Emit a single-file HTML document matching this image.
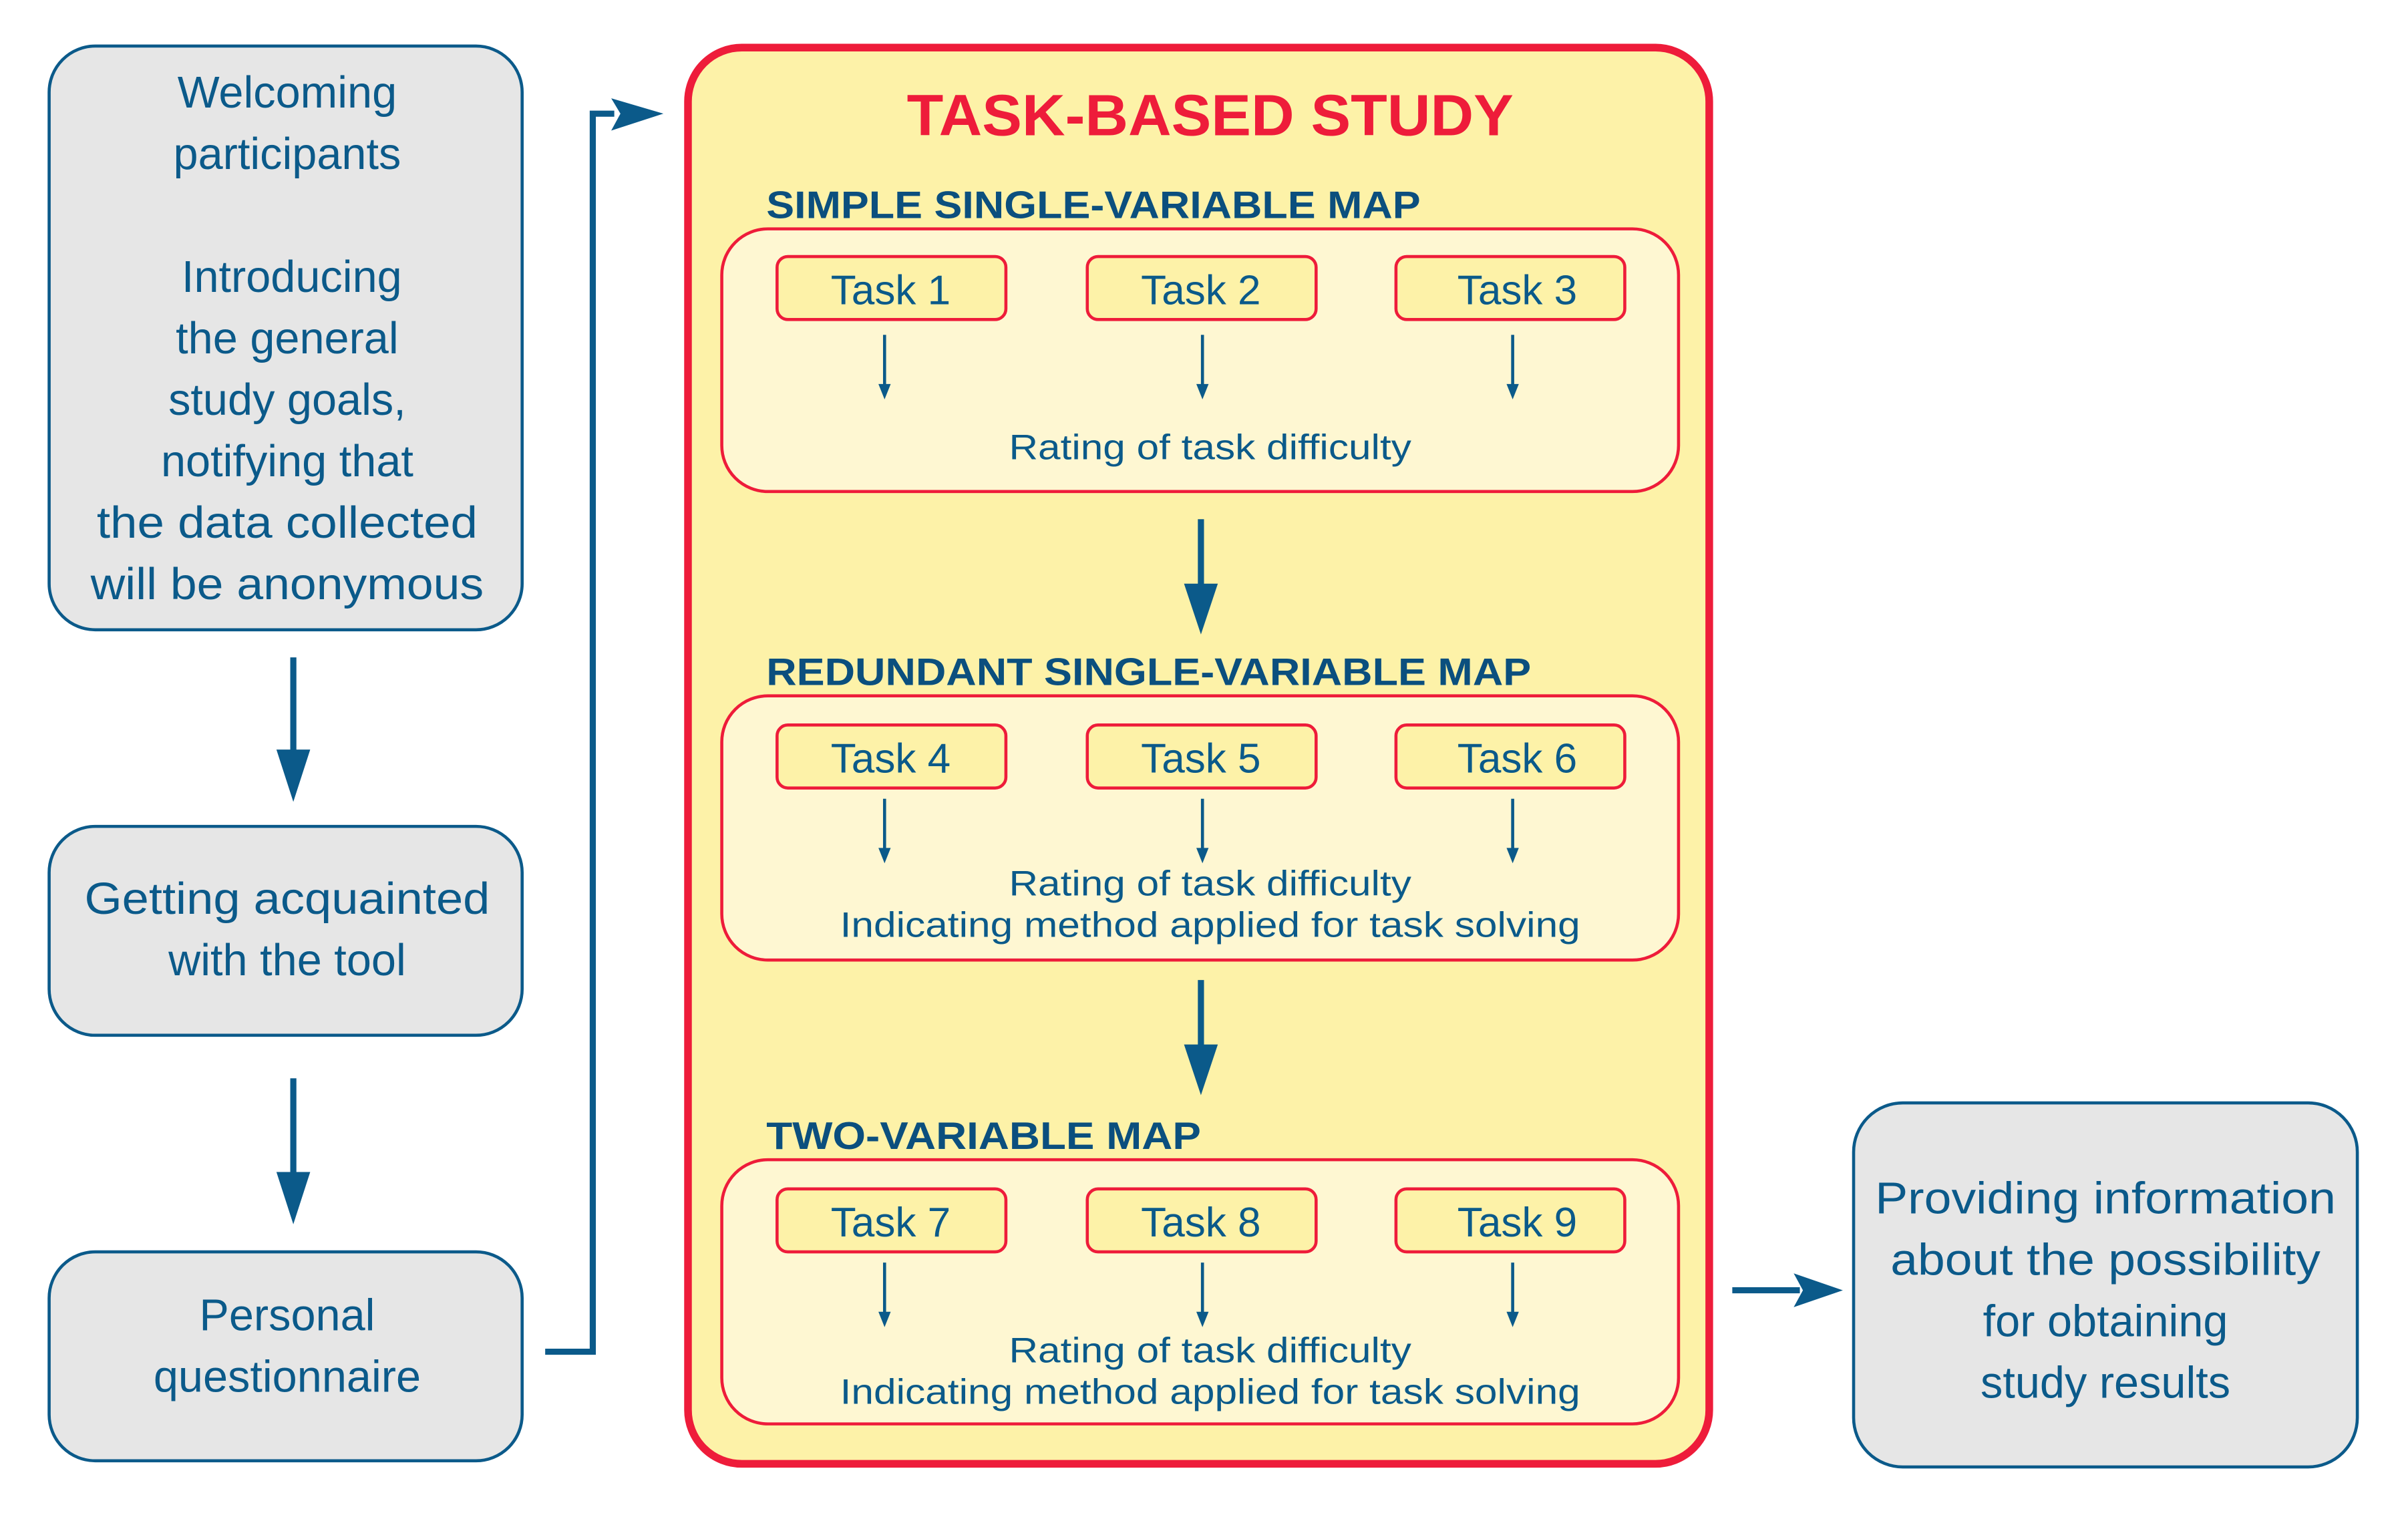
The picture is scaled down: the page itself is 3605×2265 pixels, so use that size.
<!DOCTYPE html>
<html><head><meta charset="utf-8"><style>
html,body{margin:0;padding:0;background:#fff;}
svg{display:block;}
text{font-family:"Liberation Sans",sans-serif;}
</style></head><body>
<svg width="3605" height="2265" viewBox="0 0 1568 985" preserveAspectRatio="none" xmlns="http://www.w3.org/2000/svg">
<g fill="#e6e6e6" stroke="#0b5a8a" stroke-width="2">
<rect x="32" y="30" width="308" height="380" rx="30"/>
<rect x="32" y="538" width="308" height="136" rx="30"/>
<rect x="32" y="815" width="308" height="136" rx="30"/>
<rect x="1207" y="718" width="328" height="237" rx="32"/>
</g>
<g fill="#0b5a8a" font-size="29" text-anchor="middle">
<text x="187" y="70">Welcoming</text>
<text x="187" y="110">participants</text>
<text x="190" y="190">Introducing</text>
<text x="187" y="230">the general</text>
<text x="187" y="270">study goals,</text>
<text x="187" y="310">notifying that</text>
<text x="187" y="350" textLength="248" lengthAdjust="spacingAndGlyphs">the data collected</text>
<text x="187" y="390" textLength="256" lengthAdjust="spacingAndGlyphs">will be anonymous</text>
<text x="187" y="595" textLength="264" lengthAdjust="spacingAndGlyphs">Getting acquainted</text>
<text x="187" y="635">with the tool</text>
<text x="187" y="866">Personal</text>
<text x="187" y="906">questionnaire</text>
<text x="1371" y="790" textLength="300" lengthAdjust="spacingAndGlyphs">Providing information</text>
<text x="1371" y="830" textLength="280" lengthAdjust="spacingAndGlyphs">about the possibility</text>
<text x="1371" y="870">for obtaining</text>
<text x="1371" y="910">study results</text>
</g>
<g stroke="#0b5a8a" stroke-width="4" fill="none">
<line x1="191" y1="428" x2="191" y2="492"/>
<line x1="191" y1="702" x2="191" y2="767"/>
<polyline points="355,880 386,880 386,74 400,74"/>
<line x1="1128" y1="840" x2="1172" y2="840"/>
</g>
<g fill="#0b5a8a">
<path d="M180,488 L202,488 L191,522 Z"/>
<path d="M180,763 L202,763 L191,797 Z"/>
<path d="M398,64 L432,74 L398,85 L404,74 Z"/>
<path d="M1168,829 L1200,840 L1168,851 L1174,840 Z"/>
</g>
<rect x="448" y="31" width="665" height="922" rx="35" fill="#fdf2a8" stroke="#ee1c3a" stroke-width="5"/>
<text x="788" y="88" text-anchor="middle" font-size="38" font-weight="bold" fill="#ee1c3a" textLength="395" lengthAdjust="spacingAndGlyphs">TASK-BASED STUDY</text>
<g fill="#0b4f7e" font-size="25" font-weight="bold">
<text x="499" y="142" textLength="426" lengthAdjust="spacingAndGlyphs">SIMPLE SINGLE-VARIABLE MAP</text>
<text x="499" y="446" textLength="498" lengthAdjust="spacingAndGlyphs">REDUNDANT SINGLE-VARIABLE MAP</text>
<text x="499" y="748" textLength="283" lengthAdjust="spacingAndGlyphs">TWO-VARIABLE MAP</text>
</g>
<g stroke="#0b5a8a" stroke-width="4">
<line x1="782" y1="338" x2="782" y2="385"/>
<line x1="782" y1="638" x2="782" y2="685"/>
</g>
<g fill="#0b5a8a">
<path d="M771,380 L793,380 L782,413 Z"/>
<path d="M771,680 L793,680 L782,713 Z"/>
</g>
<g fill="#fef7d2" stroke="#ee1c3a" stroke-width="2">
<rect x="470" y="149" width="623" height="171" rx="30"/>
<rect x="470" y="453" width="623" height="172" rx="30"/>
<rect x="470" y="755" width="623" height="172" rx="30"/>
</g>
<g fill="#fdf2a8" stroke="#ee1c3a" stroke-width="2">
<rect x="506" y="167" width="149" height="41" rx="7"/><rect x="708" y="167" width="149" height="41" rx="7"/><rect x="909" y="167" width="149" height="41" rx="7"/>
<rect x="506" y="472" width="149" height="41" rx="7"/><rect x="708" y="472" width="149" height="41" rx="7"/><rect x="909" y="472" width="149" height="41" rx="7"/>
<rect x="506" y="774" width="149" height="41" rx="7"/><rect x="708" y="774" width="149" height="41" rx="7"/><rect x="909" y="774" width="149" height="41" rx="7"/>
</g>
<g fill="#0b5a8a" font-size="27" text-anchor="middle">
<text x="580" y="198">Task 1</text><text x="782" y="198">Task 2</text><text x="988" y="198">Task 3</text>
<text x="580" y="503">Task 4</text><text x="782" y="503">Task 5</text><text x="988" y="503">Task 6</text>
<text x="580" y="805">Task 7</text><text x="782" y="805">Task 8</text><text x="988" y="805">Task 9</text>
</g>
<g stroke="#0b5a8a" stroke-width="2">
<line x1="576" y1="218" x2="576" y2="252"/><line x1="783" y1="218" x2="783" y2="252"/><line x1="985" y1="218" x2="985" y2="252"/>
<line x1="576" y1="520" x2="576" y2="554"/><line x1="783" y1="520" x2="783" y2="554"/><line x1="985" y1="520" x2="985" y2="554"/>
<line x1="576" y1="822" x2="576" y2="856"/><line x1="783" y1="822" x2="783" y2="856"/><line x1="985" y1="822" x2="985" y2="856"/>
</g>
<g fill="#0b5a8a">
<path d="M572,250 L580,250 L576,260 Z"/><path d="M779,250 L787,250 L783,260 Z"/><path d="M981,250 L989,250 L985,260 Z"/>
<path d="M572,552 L580,552 L576,562 Z"/><path d="M779,552 L787,552 L783,562 Z"/><path d="M981,552 L989,552 L985,562 Z"/>
<path d="M572,854 L580,854 L576,864 Z"/><path d="M779,854 L787,854 L783,864 Z"/><path d="M981,854 L989,854 L985,864 Z"/>
</g>
<g fill="#0b5a8a" font-size="23" text-anchor="middle">
<text x="788" y="299" textLength="262" lengthAdjust="spacingAndGlyphs">Rating of task difficulty</text>
<text x="788" y="583" textLength="262" lengthAdjust="spacingAndGlyphs">Rating of task difficulty</text>
<text x="788" y="610" textLength="482" lengthAdjust="spacingAndGlyphs">Indicating method applied for task solving</text>
<text x="788" y="887" textLength="262" lengthAdjust="spacingAndGlyphs">Rating of task difficulty</text>
<text x="788" y="914" textLength="482" lengthAdjust="spacingAndGlyphs">Indicating method applied for task solving</text>
</g>
</svg>
</body></html>
